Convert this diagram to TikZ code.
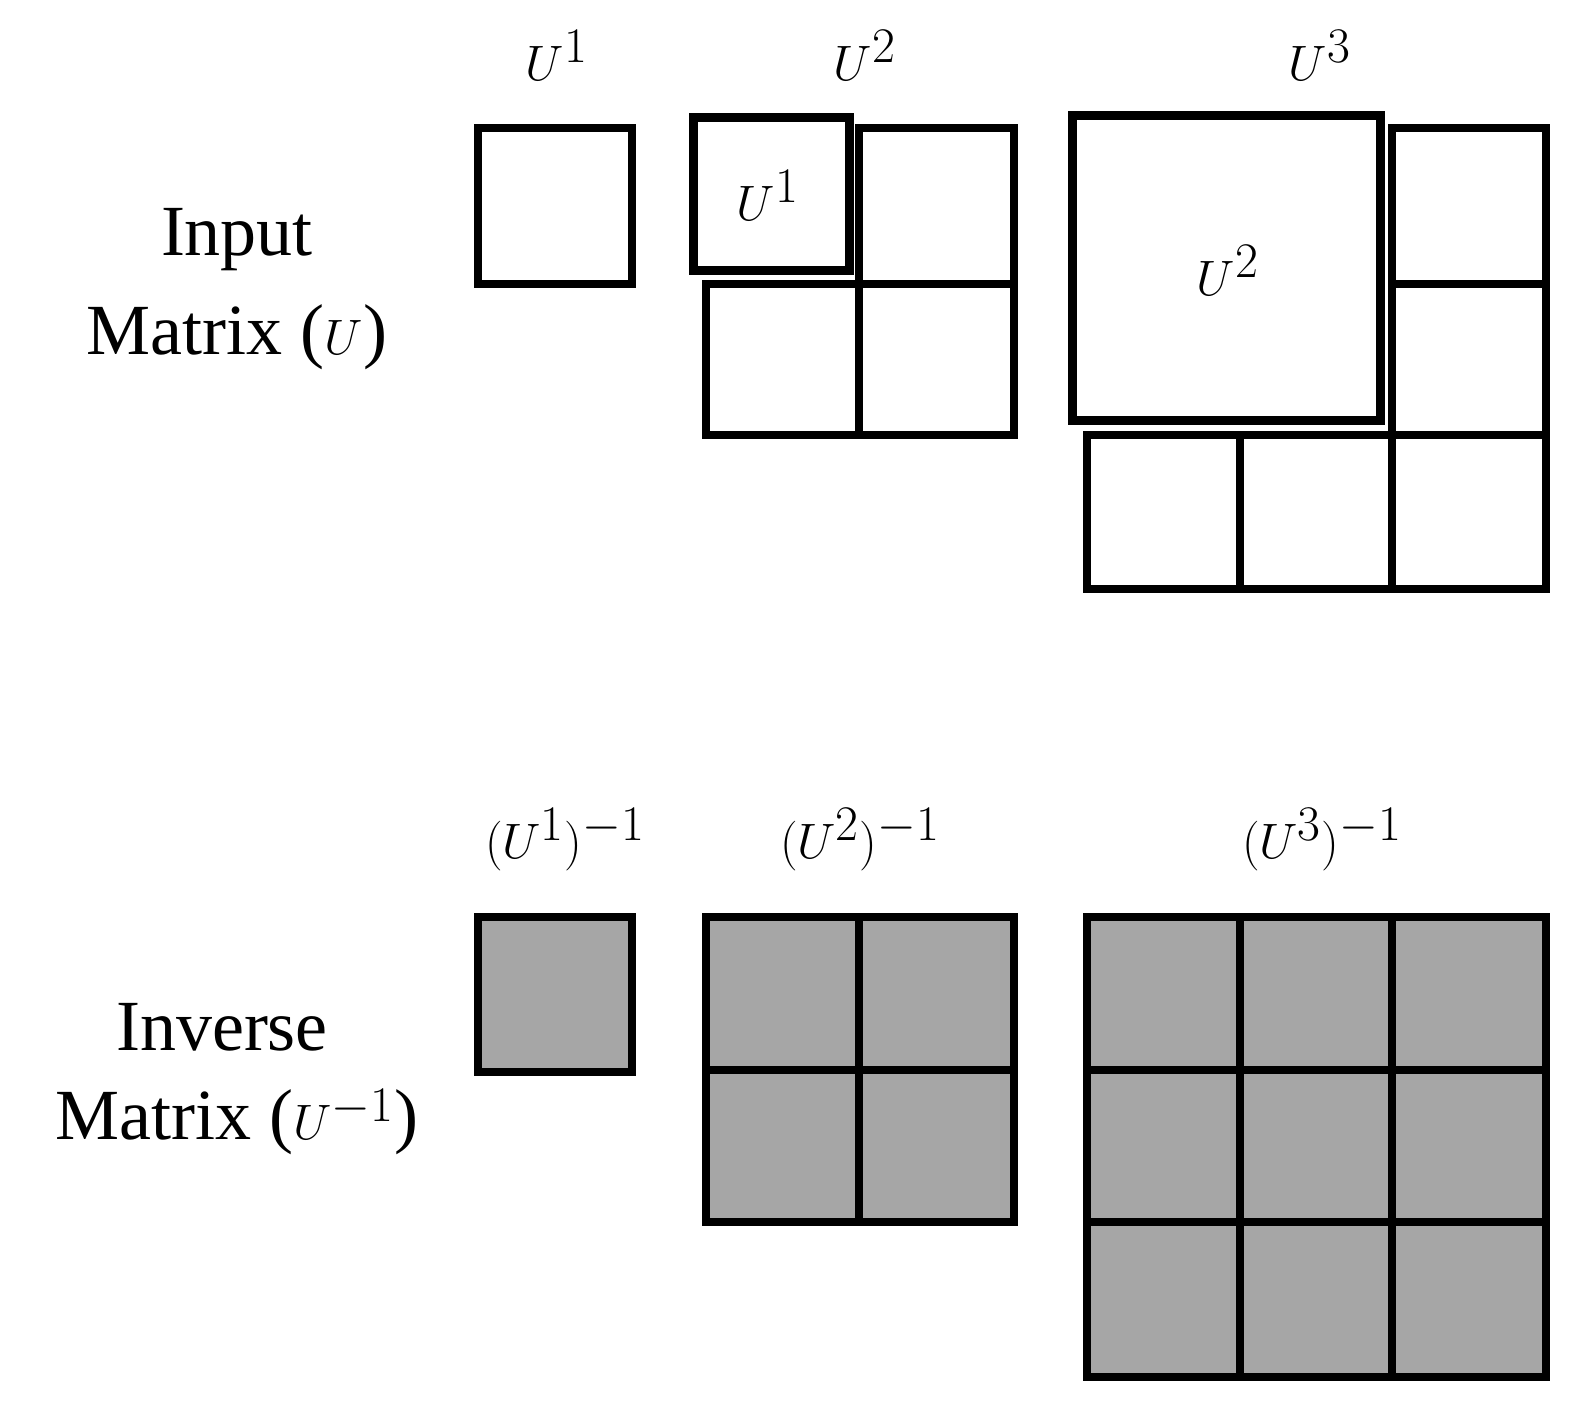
\documentclass[tikz,border=0pt]{standalone}
\usepackage{fontspec}
\setmainfont{Liberation Serif}
\begin{document}
\begin{tikzpicture}[x=0.5pt,y=-0.5pt,
  cell/.style={line width=3.6pt,line join=miter},
  inv/.style={cell,fill=gray!70},
  lab/.style={font=\fontsize{36}{42}\selectfont,inner sep=0pt,align=center},
  mlab/.style={font=\fontsize{34}{40}\selectfont,inner sep=0pt}]
\useasboundingbox (0,0) rectangle (1581,1413);
% top row
\draw[cell] (478,128) rectangle (632,284);
\draw[cell] (859,128) rectangle (1014,284);
\draw[cell] (706,284) rectangle (859,435);
\draw[cell] (859,284) rectangle (1014,435);
\draw[line width=4.5pt,fill=white] (693,118) rectangle (849,270);
\draw[cell] (1392,128) rectangle (1546,284);
\draw[cell] (1392,284) rectangle (1546,435);
\draw[cell] (1087,435) rectangle (1240,589);
\draw[cell] (1240,435) rectangle (1392,589);
\draw[cell] (1392,435) rectangle (1546,589);
\draw[line width=4.5pt,fill=white] (1072,116) rectangle (1380,420);
% bottom row
\draw[inv] (478,917) rectangle (632,1072);
\draw[inv] (706,917) rectangle (1014,1222);
\draw[cell] (859,917) -- (859,1222) (706,1070) -- (1014,1070);
\draw[inv] (1087,917) rectangle (1546,1377);
\draw[cell] (1240,917) -- (1240,1377) (1392,917) -- (1392,1377)
  (1087,1070) -- (1546,1070) (1087,1222) -- (1546,1222);
% labels
\node[mlab] (a) at (557,55) {$U^1$};
\node[mlab] (b) at (865,55) {$U^2$};
\node[mlab] (c) at (1320,55) {$U^3$};
\node[mlab] (d) at (768,195) {$U^1$};
\node[mlab] (e) at (1228,270) {$U^2$};
\node[lab] (f) at (237,240) {Input};
\node[lab] (g) at (237,337) {Matrix ($U$)};
\node[lab] (h) at (222,1027) {Inverse};
\node[lab] (i) at (237,1122) {Matrix ($U^{-1}$)};
\node[mlab] (j) at (565,840) {$(U^1)^{-1}$};
\node[mlab] (k) at (860,840) {$(U^2)^{-1}$};
\node[mlab] (l) at (1322,840) {$(U^3)^{-1}$};
\end{tikzpicture}
\end{document}
